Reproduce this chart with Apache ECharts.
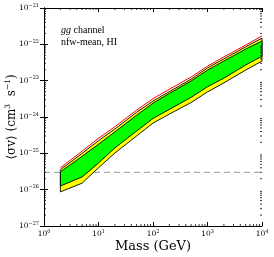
<!DOCTYPE html>
<html><head><meta charset="utf-8">
<script src="https://cdn.jsdelivr.net/npm/echarts@6/dist/echarts.min.js"></script>
<style>html,body{margin:0;padding:0;background:#fff}#c{width:274px;height:257px}#err{position:absolute;left:0;top:100px;font:8px sans-serif;color:#c00}</style>
</head><body><div id="c"></div><div id="err"></div>
<script>
window.onerror = function (m) { document.getElementById('err').textContent = m; };
const masses = [2, 5, 10, 20, 50, 100, 200, 500, 1000, 2000, 5000, 10000];
const redLine = [4.0e-26, 1.15e-25, 2.6e-25, 5.4e-25, 1.55e-24, 3.2e-24, 5.8e-24, 1.26e-23, 2.5e-23, 4.5e-23, 9.5e-23, 1.7e-22];
const yellowHigh = [3.55e-26, 1.0e-25, 2.24e-25, 4.68e-25, 1.35e-24, 2.75e-24, 5.0e-24, 1.1e-23, 2.24e-23, 3.98e-23, 8.5e-23, 1.48e-22];
const greenHigh = [3.09e-26, 8.3e-26, 1.78e-25, 3.9e-25, 1.12e-24, 2.4e-24, 4.47e-24, 9.8e-24, 1.95e-23, 3.47e-23, 7.4e-23, 1.23e-22];
const greenLow = [1.26e-26, 2.24e-26, 5.4e-26, 1.41e-25, 4.1e-25, 9.1e-25, 1.62e-24, 3.47e-24, 6.8e-24, 1.17e-23, 2.7e-23, 4.7e-23];
const yellowLow = [8.7e-27, 1.51e-26, 4.0e-26, 1.02e-25, 3.0e-25, 6.8e-25, 1.2e-24, 2.5e-24, 4.9e-24, 8.7e-24, 1.95e-23, 3.47e-23];
const thermalLine = 3e-26;
const xTickExp = [0, 1, 2, 3, 4];
const yTickExp = [-27, -26, -25, -24, -23, -22, -21];

const FONT = '"DejaVu Serif", serif';
const TFONT = '"Liberation Serif", serif';
const L = Math.log10;
const X0 = xTickExp[0], X1 = xTickExp[xTickExp.length - 1];
const Y0 = yTickExp[0], Y1 = yTickExp[yTickExp.length - 1];

function supLabel(e) {
  return '{b|10}{s|' + String(Math.round(e)).replace('-', '\u2212') + '}';
}
const richLab = {
  b: {fontFamily: FONT, fontSize: 7.5, color: '#000'},
  s: {fontFamily: FONT, fontSize: 5, color: '#000', padding: [0, 0, 5, 0]}
};

function band(low, high, color, z) {
  return {
    type: 'custom', z: z, silent: true,
    data: masses.map((m, i) => [L(m), L(low[i]), L(high[i])]),
    renderItem: function (params, api) {
      if (params.dataIndex !== 0) return null;
      const pts = [];
      for (let i = 0; i < masses.length; i++) pts.push(api.coord([L(masses[i]), L(high[i])]));
      for (let i = masses.length - 1; i >= 0; i--) pts.push(api.coord([L(masses[i]), L(low[i])]));
      return {type: 'polygon', shape: {points: pts}, style: {fill: color, stroke: '#000', lineWidth: 0.9}};
    }
  };
}

// minor log ticks (2..9 within each decade)
const minorMult = [2, 3, 4, 5, 6, 7, 8, 9];
function minorTicks() {
  return {
    type: 'custom', z: 10, silent: true,
    data: [[X0, Y0]],
    renderItem: function (params, api) {
      const ch = [];
      const ln = (a, b) => ch.push({type: 'line', shape: {x1: a[0], y1: a[1], x2: b[0], y2: b[1]}, style: {stroke: '#000', lineWidth: 0.8}});
      for (let d = X0; d < X1; d++) for (const k of minorMult) {
        const v = d + L(k);
        const b = api.coord([v, Y0]), t = api.coord([v, Y1]);
        ln(b, [b[0], b[1] - 2]); ln(t, [t[0], t[1] + 2]);
      }
      for (let d = Y0; d < Y1; d++) for (const k of minorMult) {
        const v = d + L(k);
        const l = api.coord([X0, v]), r = api.coord([X1, v]);
        ln(l, [l[0] + 2, l[1]]); ln(r, [r[0] - 2, r[1]]);
      }
      return {type: 'group', children: ch};
    }
  };
}

function ax(extra) {
  const base = {
    type: 'value', interval: 1,
    axisLine: {show: true, lineStyle: {color: '#000', width: 1}},
    axisTick: {show: true, inside: true, length: 4, lineStyle: {color: '#000'}},
    splitLine: {show: false}
  };
  for (const k in extra) base[k] = extra[k];
  return base;
}

const chart = echarts.init(document.getElementById('c'));
chart.setOption({
  animation: false,
  backgroundColor: '#fff',
  grid: {left: 44, right: 12, top: 8, bottom: 31, containLabel: false, outerBoundsMode: 'none'},
  xAxis: [
    ax({position: 'bottom', min: X0, max: X1,
      name: 'Mass (GeV)', nameLocation: 'middle', nameGap: 14, nameMoveOverlap: false,
      nameTextStyle: {fontFamily: FONT, fontSize: 13, color: '#000'},
      axisLabel: {formatter: supLabel, rich: richLab, margin: 3}}),
    ax({position: 'top', min: X0, max: X1, axisLabel: {show: false}})
  ],
  yAxis: [
    ax({position: 'left', min: Y0, max: Y1,
      name: '{t|\u27E8\u03C3v\u27E9 (cm}{s|3}{t|  s}{s|\u22121}{t|)}', nameLocation: 'middle', nameGap: 24,
      nameMoveOverlap: false,
      nameTextStyle: {rich: {
        t: {fontFamily: FONT, fontSize: 12, color: '#000'},
        s: {fontFamily: FONT, fontSize: 7.5, color: '#000', padding: [0, 0, 8, 0]}
      }},
      axisLabel: {formatter: supLabel, rich: richLab, margin: 5}}),
    ax({position: 'right', min: Y0, max: Y1, axisLabel: {show: false}})
  ],
  graphic: [
    {type: 'text', left: 61, top: 25, style: {
      text: '{i|gg} channel', font: '10px ' + TFONT, fill: '#000',
      rich: {i: {fontFamily: TFONT, fontStyle: 'italic', fontSize: 10}}
    }},
    {type: 'text', left: 61, top: 37, style: {text: 'nfw-mean, HI', font: '10px ' + TFONT, fill: '#000'}}
  ],
  series: [
    {
      type: 'line', z: 1, symbol: 'none', silent: true,
      data: [[X0, L(thermalLine)], [X1, L(thermalLine)]],
      lineStyle: {type: [6, 4], color: '#aaaaaa', width: 1.3}
    },
    band(yellowLow, yellowHigh, '#ffff00', 2),
    band(greenLow, greenHigh, '#00ff00', 3),
    {
      type: 'line', z: 4, symbol: 'none', silent: true,
      data: masses.map((m, i) => [L(m), L(redLine[i])]),
      lineStyle: {color: '#ff0000', width: 1}
    },
    minorTicks()
  ]
});
</script></body></html>
